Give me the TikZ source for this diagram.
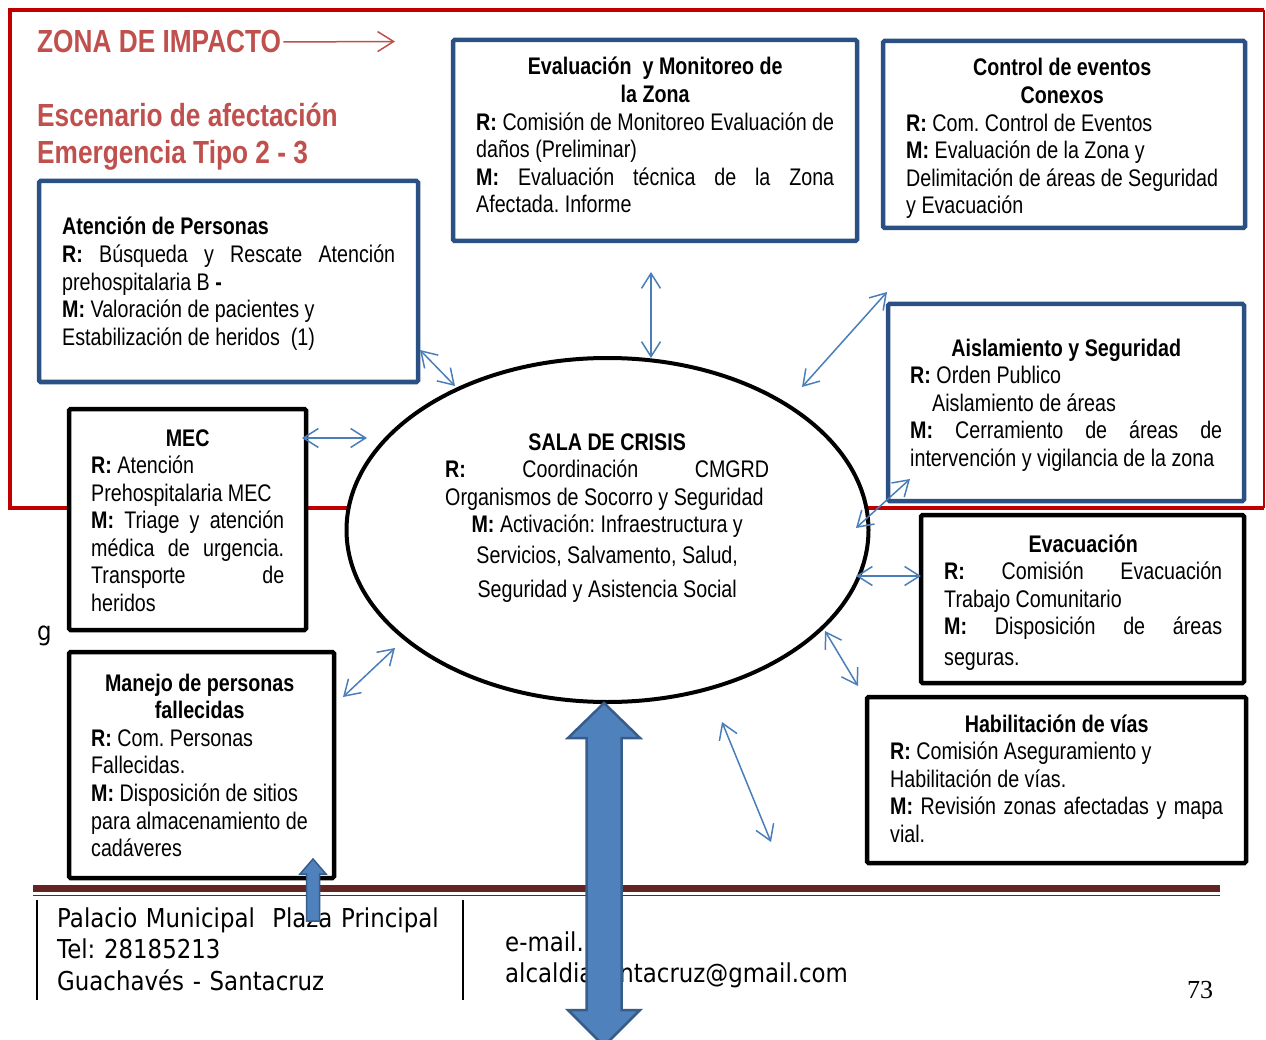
\documentclass[tikz,border=0pt]{standalone}
\usepackage{fontspec}
\setmainfont{Liberation Sans}[FakeStretch=0.82]
\newfontfamily\footfont{DejaVu Sans}[FakeStretch=0.88]
\newfontfamily\numfont{Liberation Serif}
\usetikzlibrary{arrows.meta,shapes.geometric}
\definecolor{zonered}{HTML}{C00000}
\definecolor{titlered}{HTML}{C0504D}
\definecolor{boxblue}{HTML}{2B5083}
\definecolor{arrowblue}{HTML}{4A7EBB}
\definecolor{fillblue}{HTML}{4F81BD}
\definecolor{edgeblue}{HTML}{385D8A}
\definecolor{footred}{HTML}{632523}
\hyphenpenalty=10000
\exhyphenpenalty=10000
\frenchspacing
\newcommand\NarrowSp{\spaceskip=0.228em plus 0.5em minus 0.04em\xspaceskip=0.228em plus 0.5em minus 0.04em\relax}
\newcommand\JustLine[1]{\makebox[\linewidth][s]{#1}}
\newcommand\CenLine[1]{\makebox[\linewidth][c]{#1}}
\tikzset{
  bluebox/.style={draw=boxblue, line width=4.5pt, fill=white, rounded corners=1.5pt, inner sep=0pt},
  blackbox/.style={draw=black, line width=4.5pt, fill=white, rounded corners=1.5pt, inner sep=0pt},
  boxtext/.style={anchor=base west, inner sep=0pt, font={\fontsize{24}{27.6}\selectfont}},
  titletext/.style={anchor=base west, inner sep=0pt, text=titlered, font={\fontsize{32}{36.8}\selectfont\bfseries}},
  link/.style={draw=arrowblue, line width=1.5pt, {Straight Barb[length=15pt,width=19pt]}-{Straight Barb[length=15pt,width=19pt]}},
  blockarrow/.style={fill=fillblue, draw=edgeblue, line width=2.5pt, line join=miter},
  foottext/.style={anchor=base west, inner sep=0pt, font={\footfont\fontsize{26}{31.5}\selectfont}},
}
\begin{document}
\begin{tikzpicture}[x=1pt, y=-1pt]
\useasboundingbox (0,0) rectangle (1266,1040);
\fill[white] (0,0) rectangle (1266,1040);

% impact zone frame
\draw[zonered, line width=4pt] (1264,10) -- (10,10) -- (10,508) -- (1264,508);
\draw[zonered, line width=1.2pt] (1264,10) -- (1264,508);

% titles
\node[titletext] (zona) at (37,53) {\NarrowSp ZONA DE IMPACTO};
\coordinate (zonaend) at (395,41.5);
\draw[titlered, line width=1.5pt, -{Straight Barb[length=16pt,width=20pt]}] (zona.east) ++(2,0) -- (zonaend);
\node[titletext, text width=330pt] (escenario) at (37,127) {\NarrowSp Escenario de afectación\\Emergencia Tipo 2 - 3};

% boxes
\node[bluebox, minimum width=404pt, minimum height=201pt] (eval) at (655,140.5) {};
\node[bluebox, minimum width=362pt, minimum height=187pt] (control) at (1064,134.5) {};
\node[bluebox, minimum width=379pt, minimum height=201pt] (atencion) at (228.5,281.5) {};
\node[bluebox, minimum width=356pt, minimum height=197pt] (aisla) at (1066,402.5) {};
\node[blackbox, minimum width=237pt, minimum height=221pt] (mec) at (187.5,519.5) {};
\node[blackbox, minimum width=323pt, minimum height=168pt] (evac) at (1082.5,599) {};
\node[blackbox, minimum width=265pt, minimum height=226pt] (manejo) at (201.5,765) {};
\node[blackbox, minimum width=379pt, minimum height=166pt] (habil) at (1056.5,780) {};
\node[draw, ellipse, line width=4pt, fill=white, minimum width=522pt, minimum height=344pt, inner sep=0pt] (sala) at (607.5,530) {};

% box texts
\node[boxtext, text width=358pt] (evaltxt) at (476,75) {\NarrowSp
\CenLine{\textbf{Evaluación\ \ y Monitoreo de}}\\
\CenLine{\textbf{la Zona}}\\
\JustLine{\textbf{R:} Comisión de Monitoreo Evaluación de}\\
daños (Preliminar)\\
\JustLine{\textbf{M:} Evaluación técnica de la Zona}\\
Afectada. Informe};

\node[boxtext, text width=312pt] (controltxt) at (906,76) {\NarrowSp
\CenLine{\textbf{Control de eventos}}\\
\CenLine{\textbf{Conexos}}\\
\textbf{R:} Com. Control de Eventos\\
\textbf{M:} Evaluación de la Zona y\\
Delimitación de áreas de Seguridad\\
y Evacuación};

\node[boxtext, text width=333pt] (atenciontxt) at (62,235) {\NarrowSp
\textbf{Atención de Personas}\\
\JustLine{\textbf{R:} Búsqueda y Rescate Atención}\\
prehospitalaria B \textbf{-}\\
\textbf{M:} Valoración de pacientes y\\
Estabilización de heridos\ \ (1)};

\node[boxtext, text width=312pt] (aislatxt) at (910,356) {\NarrowSp
\CenLine{\textbf{Aislamiento y Seguridad}}\\
\textbf{R:} Orden Publico\\
\hspace*{22pt}Aislamiento de áreas\\
\JustLine{\textbf{M:} Cerramiento de áreas de}\\
intervención y vigilancia de la zona};

\node[boxtext, text width=193pt] (mectxt) at (91,446) {\NarrowSp
\CenLine{\textbf{MEC}}\\
\textbf{R:} Atención\\
Prehospitalaria MEC\\
\JustLine{\textbf{M:} Triage y atención}\\
\JustLine{médica de urgencia.}\\
\JustLine{Transporte de}\\
heridos};

\node[boxtext, text width=278pt] (evactxt) at (944,552) {\NarrowSp
\CenLine{\textbf{Evacuación}}\\
\JustLine{\textbf{R:} Comisión Evacuación}\\
Trabajo Comunitario\\
\JustLine{\textbf{M:} Disposición de áreas}\\[3.4pt]
seguras.};

\node[boxtext, text width=217pt] (manejotxt) at (91,691) {\NarrowSp
\CenLine{\textbf{Manejo de personas}}\\
\CenLine{\textbf{fallecidas}}\\
\textbf{R:} Com. Personas\\
Fallecidas.\\
\textbf{M:} Disposición de sitios\\
para almacenamiento de\\
cadáveres};

\node[boxtext, text width=333pt] (habiltxt) at (890,732) {\NarrowSp
\CenLine{\textbf{Habilitación de vías}}\\
\textbf{R:} Comisión Aseguramiento y\\
Habilitación de vías.\\
\JustLine{\textbf{M:} Revisión zonas afectadas y mapa}\\
vial.};

\node[boxtext, text width=324pt] (salatxt) at (445,450) {\NarrowSp
\CenLine{\textbf{SALA DE CRISIS}}\\
\JustLine{\textbf{R:} Coordinación CMGRD}\\
Organismos de Socorro y Seguridad\\
\CenLine{\textbf{M:} Activación: Infraestructura y}\\[3.4pt]
\CenLine{Servicios, Salvamento, Salud,}\\[6.4pt]
\CenLine{Seguridad y Asistencia Social}};

% connector end points
\coordinate (a1) at (651,272); \coordinate (a2) at (651,358);
\coordinate (b1) at (887,292); \coordinate (b2) at (802,387);
\coordinate (c1) at (910,479); \coordinate (c2) at (856,528);
\coordinate (d1) at (856,576); \coordinate (d2) at (921,576);
\coordinate (e1) at (825,631); \coordinate (e2) at (858,686);
\coordinate (f1) at (722,722); \coordinate (f2) at (771,842);
\coordinate (g1) at (343,697); \coordinate (g2) at (395,648);
\coordinate (h1) at (302,438); \coordinate (h2) at (367,438);
\coordinate (i1) at (420,350); \coordinate (i2) at (455,386);
\draw[link] (a1) -- (a2);
\draw[link] (b1) -- (b2);
\draw[link] (c1) -- (c2);
\draw[link] (d1) -- (d2);
\draw[link] (e1) -- (e2);
\draw[link] (f1) -- (f2);
\draw[link] (g1) -- (g2);
\draw[link] (h1) -- (h2);
\draw[link] (i1) -- (i2);

% stray letter
\node[anchor=base west, inner sep=0pt, font={\footfont\fontsize{26}{31.5}\selectfont}] (gletter) at (37,640) {g};

% footer
\draw[footred, line width=7pt] (33,888.5) -- (1220,888.5);
\draw[footred, line width=1.5pt] (33,895.5) -- (1220,895.5);
\draw[black, line width=2pt] (37,900) -- (37,1000);
\draw[black, line width=2pt] (463,900) -- (463,1000);
\node[foottext, text width=420pt] (addr) at (57,927) {Palacio Municipal\ \ Plaza Principal\\Tel: 28185213\\Guachavés - Santacruz};
\node[foottext, text width=420pt] (mail) at (505,951) {e-mail.\\alcaldiasantacruz@gmail.com};
\node[anchor=base west, inner sep=0pt, font={\numfont\fontsize{26}{30}\selectfont}] (pagenum) at (1187,998) {73};

% block arrows
\draw[blockarrow] (604,703) -- (640,738) -- (621.5,738) -- (621.5,1010) -- (640,1010) -- (604,1046) -- (568,1010) -- (586.5,1010) -- (586.5,738) -- (568,738) -- cycle;
\draw[blockarrow, line width=1.5pt] (313,859) -- (326,874) -- (319.5,874) -- (319.5,921) -- (306.5,921) -- (306.5,874) -- (300,874) -- cycle;
\end{tikzpicture}
\end{document}
